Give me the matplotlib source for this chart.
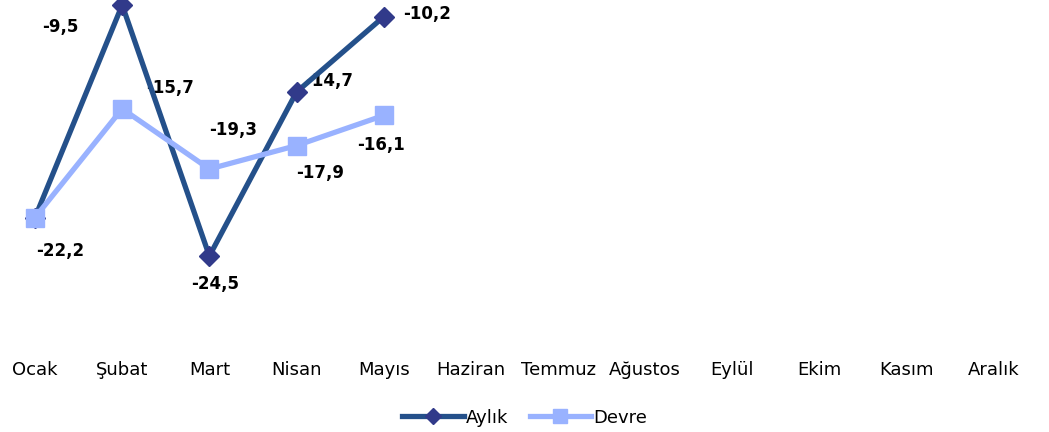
import matplotlib.pyplot as plt

months = ['Ocak', 'Şubat', 'Mart', 'Nisan', 'Mayıs', 'Haziran', 'Temmuz',
          'Ağustos', 'Eylül', 'Ekim', 'Kasım', 'Aralık']
aylik = [-22.2, -9.5, -24.5, -14.7, -10.2]
devre = [-22.2, -15.7, -19.3, -17.9, -16.1]

# label offsets in pixels (dx, dy), screen coordinates
aylik_off = [(25, -33), (-62, -22), (6, -28), (33, 11), (43, 3)]
devre_off = [None, (48, 21), (24, 39), (24, -27), (-3, -30)]

fig = plt.figure(figsize=(10.49, 4.32), dpi=100)
ax = fig.add_axes([0, 1 - 340 / 432, 1, 340 / 432])

x = list(range(len(aylik)))
ax.plot(x, aylik, color='#24508A', lw=3.8, marker='D', ms=10,
        mfc='#313A8A', mec='#313A8A', label='Aylık', zorder=3, clip_on=False)
ax.plot(x, devre, color='#99B2FF', lw=3.8, marker='s', ms=13,
        mfc='#99B2FF', mec='#99B2FF', label='Devre', zorder=4, clip_on=False)

def fmt(v):
    return f'{v:.1f}'.replace('.', ',')

for i, v in enumerate(aylik):
    dx, dy = aylik_off[i]
    ax.annotate(fmt(v), (i, v), xytext=(dx * 0.72, dy * 0.72),
                textcoords='offset points', ha='center', va='center',
                fontsize=12, fontweight='bold', zorder=2)
for i, v in enumerate(devre):
    if devre_off[i] is None:
        continue
    dx, dy = devre_off[i]
    ax.annotate(fmt(v), (i, v), xytext=(dx * 0.72, dy * 0.72),
                textcoords='offset points', ha='center', va='center',
                fontsize=12, fontweight='bold', zorder=2)

ax.set_xlim(-35 / 87.18, 11 + 55 / 87.18)
ax.set_ylim(-29.52, -9.2)
ax.set_xticks(range(len(months)))
ax.set_xticklabels(months, fontsize=13)
ax.tick_params(axis='x', length=0, pad=15)
ax.set_yticks([])
for s in ax.spines.values():
    s.set_visible(False)

fig.legend(loc='lower center', bbox_to_anchor=(0.5, -0.025), ncol=2, frameon=False,
           fontsize=13, handlelength=3.4, columnspacing=1.2, handletextpad=0.1,
           markerscale=0.8)

fig.savefig('out.png', dpi=100)
